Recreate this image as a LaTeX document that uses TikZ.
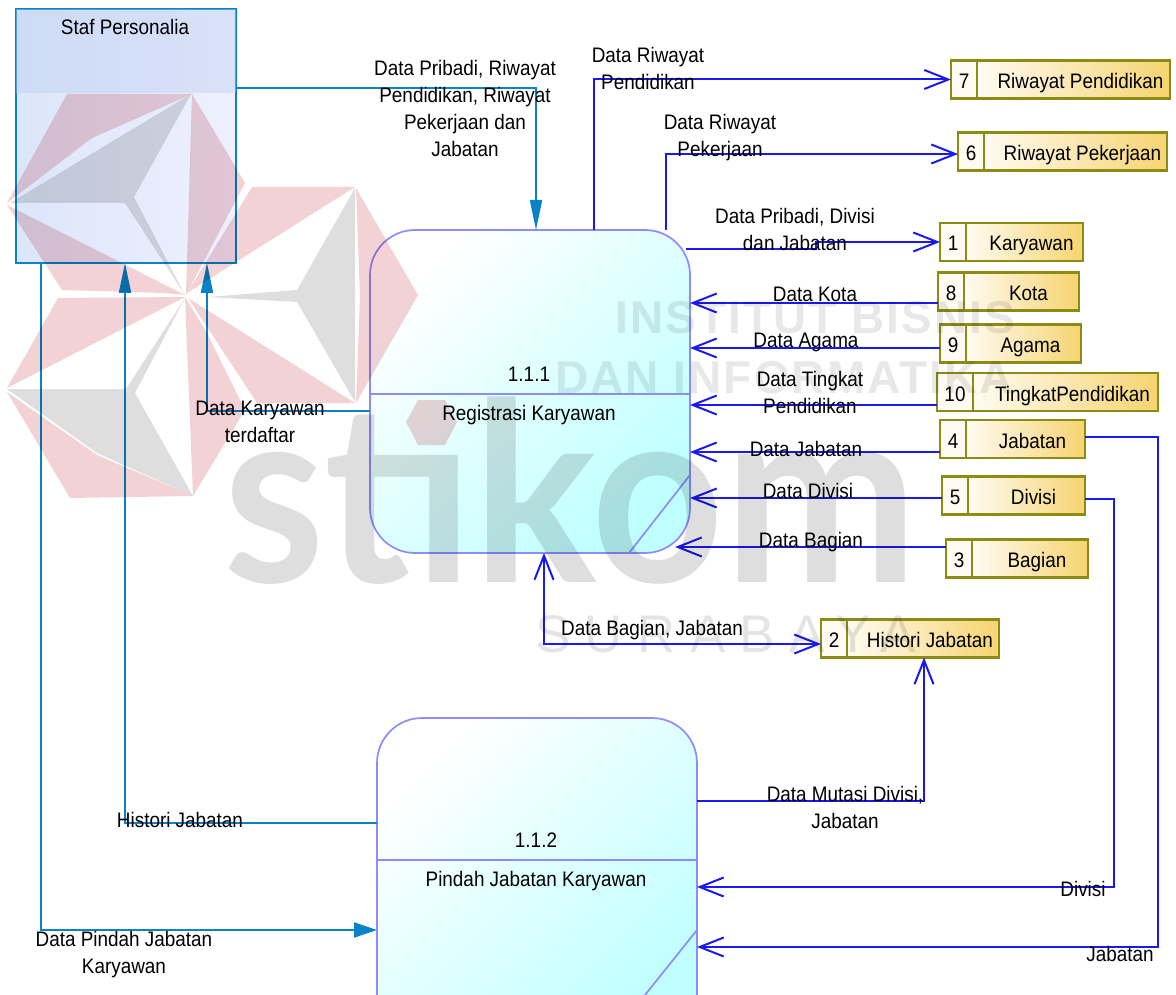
\documentclass[tikz,border=0pt]{standalone}
\usepackage{fontspec}
\setsansfont{Liberation Sans}[FakeStretch=0.9]
\newfontfamily\logofont{Lato}[FakeStretch=0.925]
\newfontfamily\schoolfont{Liberation Sans}[LetterSpace=4.5]
\newfontfamily\cityfont{Liberation Sans}[LetterSpace=27]
\usetikzlibrary{arrows.meta,positioning,calc}

\definecolor{flowblue}{HTML}{1A1AF0}
\definecolor{inkblue}{HTML}{0A82C8}
\definecolor{procline}{HTML}{8C8CFF}
\definecolor{storeline}{HTML}{8C8C14}
\definecolor{storeleft}{HTML}{FFFBF2}
\definecolor{storeright}{HTML}{F6D470}
\definecolor{agentleft}{HTML}{DCE6FA}
\definecolor{agentright}{HTML}{EEF0FE}
\definecolor{agenthead}{HTML}{B8CCF0}
\definecolor{logored}{HTML}{F2D2D5}
\definecolor{logogray}{HTML}{DEDEDE}

\begin{document}
\begin{tikzpicture}[
    x=1pt, y=-1pt,
    process/.style={draw=procline, line width=1.7pt, rounded corners=45pt, minimum width=320pt, minimum height=323pt, outer sep=0pt, shading=axis, top color=white, bottom color=cyan!25, shading angle=45},
    divider/.style={draw=procline, line width=1.7pt},
    agent/.style={draw=inkblue, line width=1.7pt, minimum width=220pt, minimum height=254pt, outer sep=0pt, left color=agentleft, right color=agentright},
    storenum/.style={draw=storeline, line width=2.2pt, minimum height=38pt, outer sep=0pt, inner sep=0pt, fill=storeleft, text height=18pt, text depth=0pt, font=\sffamily\fontsize{21}{27}\selectfont},
    storename/.style={draw=storeline, line width=2.2pt, minimum height=38pt, outer sep=0pt, inner sep=0pt, left color=storeleft, right color=storeright, text height=18pt, text depth=0pt, font=\sffamily\fontsize{21}{27}\selectfont, execute at begin node=\hspace*{14pt}, right=0pt of #1},
    flow/.style={draw=flowblue, line width=2pt, -{Straight Barb[length=24pt,width=19pt]}},
    flowin/.style={draw=inkblue, line width=2pt, -{Triangle[length=30pt,width=12pt]}},
    flowlabel/.style={align=center, font=\sffamily\fontsize{21}{27}\selectfont},
]

\useasboundingbox (0,0) rectangle (1176,995);
\clip (0,0) rectangle (1176,995);

% Processes
\node[process] (reg) at (530,391.5) {};
\node[process] (pindah) at (537,879.5) {};
\draw[divider] (reg.west |- 0,394) -- (reg.east |- 0,394);
\draw[divider] (reg.east |- 0,475) -- (629,0 |- reg.south);
\draw[divider] (pindah.west |- 0,860) -- (pindah.east |- 0,860);
\draw[divider] (pindah.east |- 0,930) -- (637,0 |- 0,1005);
\node[flowlabel] (regid) at (529,374) {1.1.1};
\node[flowlabel] (regname) at (529,415) {Registrasi Karyawan};
\node[flowlabel] (pindahid) at (536,840) {1.1.2};
\node[flowlabel] (pindahname) at (536,881) {Pindah Jabatan Karyawan};

% External entity
\node[agent] (staf) at (126,136) {};
\fill[agenthead, fill opacity=0.4] (staf.north west) rectangle (staf.east |- 0,93);
\node[flowlabel] (stafname) at (125,27) {Staf Personalia};

% Data stores
\node[storenum, minimum width=26pt] (num7) at (964,79.5) {7};
\node[storename=num7, minimum width=193pt] (store7) {Riwayat Pendidikan};
\node[storenum, minimum width=26pt] (num6) at (971,151.5) {6};
\node[storename=num6, minimum width=183pt] (store6) {Riwayat Pekerjaan};
\node[storenum, minimum width=26pt] (num1) at (953,242) {1};
\node[storename=num1, minimum width=117pt] (store1) {Karyawan};
\node[storenum, minimum width=26pt] (num8) at (951,291.5) {8};
\node[storename=num8, minimum width=115pt] (store8) {Kota};
\node[storenum, minimum width=26pt] (num9) at (953,343.5) {9};
\node[storename=num9, minimum width=115pt] (store9) {Agama};
\node[storenum, minimum width=36pt] (num10) at (955,392) {10};
\node[storename=num10, minimum width=185pt] (store10) {TingkatPendidikan};
\node[storenum, minimum width=26pt] (num4) at (953,439) {4};
\node[storename=num4, minimum width=119pt] (store4) {Jabatan};
\node[storenum, minimum width=26pt] (num5) at (955,495.5) {5};
\node[storename=num5, minimum width=117pt] (store5) {Divisi};
\node[storenum, minimum width=26pt] (num3) at (959,558.5) {3};
\node[storename=num3, minimum width=116pt] (store3) {Bagian};
\node[storenum, minimum width=26pt] (num2) at (834,638.5) {2};
\node[storename=num2, minimum width=152pt] (store2) {Histori Jabatan};

% Flows to and from the entity
\draw[flowin] (staf.east |- 0,88) -| (536,0 |- reg.north);
\draw[flowin] (reg.west |- 0,411) -| (207,0 |- staf.south);
\draw[flowin] (pindah.west |- 0,823) -| (125,0 |- staf.south);
\draw[flowin, -{Triangle[length=23pt,width=15pt]}] (41,0 |- staf.south) |- (pindah.west |- 0,930);

% Flows of process 1.1.1
\draw[flow] (594,0 |- reg.north) |- (num7.west);
\draw[flow] (666,0 |- reg.north) |- (num6.west |- 0,154);
\draw[flow] (686,249) -- (816,249) -- (816,242) -- (num1.west);
\draw[flow] (num8.west |- 0,303) -- (reg.east |- 0,303);
\draw[flow] (num9.west |- 0,348) -- (reg.east |- 0,348);
\draw[flow] (num10.west |- 0,405) -- (reg.east |- 0,405);
\draw[flow] (num4.west |- 0,452) -- (reg.east |- 0,452);
\draw[flow] (num5.west |- 0,498) -- (reg.east |- 0,498);
\draw[flow] (num3.west |- 0,547) -- (675,547);
\draw[flow, {Straight Barb[length=24pt,width=19pt]}-{Straight Barb[length=24pt,width=19pt]}] (544,0 |- reg.south) |- (num2.west |- 0,644);

% Flows of process 1.1.2
\draw[flow] (pindah.east |- 0,801) -| (924,0 |- num2.south);
\draw[flow] (store5.east |- 0,499) -| (1114,887) -- (pindah.east |- 0,887);
\draw[flow] (store4.east |- 0,437) -| (1158,947) -- (pindah.east |- 0,947);

% Labels
\node[flowlabel] (lblstaf) at (465,108) {Data Pribadi, Riwayat\\Pendidikan, Riwayat\\Pekerjaan dan\\Jabatan};
\node[flowlabel] (lblpend) at (648,68) {Data Riwayat\\Pendidikan};
\node[flowlabel] (lblkerja) at (720,138) {Data Riwayat\\Pekerjaan};
\node[flowlabel] (lblpribadi) at (795,229) {Data Pribadi, Divisi\\dan Jabatan};
\node[flowlabel] (lblkota) at (815,294) {Data Kota};
\node[flowlabel] (lblagama) at (806,342) {Data Agama};
\node[flowlabel] (lbltingkat) at (810,392) {Data Tingkat\\Pendidikan};
\node[flowlabel] (lbljabatan) at (806,449) {Data Jabatan};
\node[flowlabel] (lbldivisi) at (808,491) {Data Divisi};
\node[flowlabel] (lblbagian) at (811,542) {Data Bagian};
\node[flowlabel] (lblhistori) at (652,630) {Data Bagian, Jabatan};
\node[flowlabel] (lblmutasi) at (845,807) {Data Mutasi Divisi,\\Jabatan};
\node[flowlabel] (lbldiv) at (1083,889) {Divisi};
\node[flowlabel] (lbljab) at (1120,954) {Jabatan};
\node[flowlabel] (lblhist) at (180,820) {Histori Jabatan};
\node[flowlabel] (lblpindah) at (124,955) {Data Pindah Jabatan\\Karyawan};
\node[flowlabel] (lblkary) at (260,422) {Data Karyawan\\terdaftar};

% Watermark
\begin{scope}[blend mode=multiply]
\fill[logored] (192,94) -- (67,94) -- (7,203) -- (92,138) -- cycle;
\fill[logored] (192,94) -- (245,183) -- (186,295) -- cycle;
\fill[logored] (7,205) -- (62,290) -- (163,293) -- (185,295) -- cycle;
\fill[logored] (58,298) -- (7,388) -- (185,297) -- cycle;
\fill[logored] (7,392) -- (70,498) -- (193,496) -- (97,455) -- cycle;
\fill[logored] (185,297) -- (193,496) -- (245,410) -- (207,333) -- cycle;
\fill[logored] (188,298) -- (355,403) -- (257,403) -- cycle;
\fill[logored] (187,293) -- (252,187) -- (355,187) -- cycle;
\fill[logored] (356,188) -- (418,295) -- (356,403) -- (360,297) -- cycle;
\fill[logored] (418,400) -- (445,400) -- (457,422) -- (445,445) -- (418,445) -- (406,422) -- cycle;
\fill[logogray] (191,94) -- (10,203) -- (125,203) -- (185,295) -- (134,197) -- cycle;
\fill[logogray] (7,389) -- (126,389) -- (185,298) -- (135,393) -- (193,496) -- (97,453) -- cycle;
\fill[logogray] (355,188) -- (297,290) -- (207,297) -- (297,302) -- (355,402) -- cycle;
\begin{scope}[even odd rule]
\clip (0,0) rectangle (1176,995) (400,380) rectangle (462,450);
\node[anchor=base west, text=logogray, inner sep=0pt] (stikom) at (223,582) {\logofont\bfseries\fontsize{250}{250}\selectfont stikom};
\end{scope}
\node[anchor=base west, text=logogray!70, inner sep=0pt] (school1) at (615,333) {\schoolfont\bfseries\fontsize{46}{46}\selectfont INSTITUT BISNIS};
\node[anchor=base west, text=logogray!70, inner sep=0pt] (school2) at (555,393) {\schoolfont\bfseries\fontsize{46}{46}\selectfont DAN INFORMATIKA};
\node[anchor=base west, text=logogray!80, inner sep=0pt] (city) at (535,652) {\cityfont\fontsize{53}{53}\selectfont SURABAYA};
\end{scope}

\end{tikzpicture}
\end{document}
